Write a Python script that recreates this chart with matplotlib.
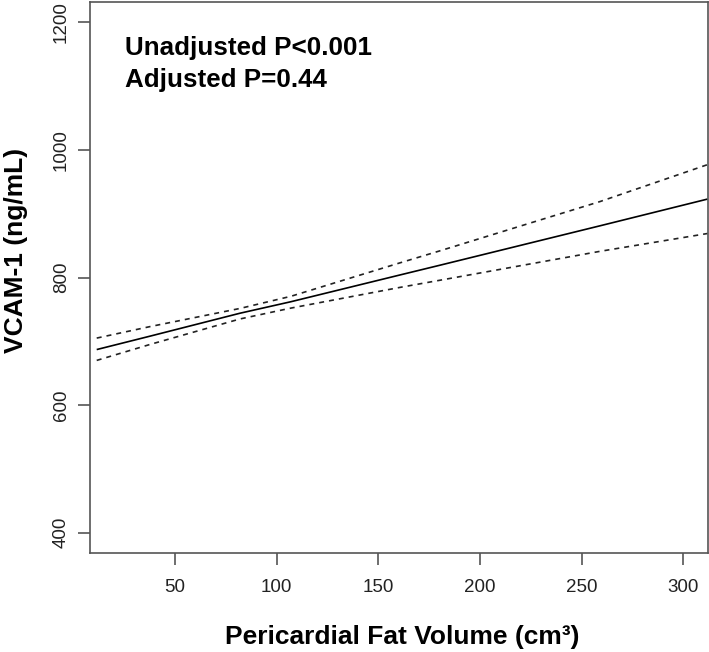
import matplotlib
matplotlib.use("Agg")
import matplotlib.pyplot as plt

# values
fat_volume = [11.5, 37.7, 82, 107, 160.7, 180, 259, 312]
vcam_fit = [687, 708, 744, 762, 804, 819, 881, 923]
vcam_upper = [705, 723, 751.5, 770.5, 823, 841.5, 919, 977]
vcam_lower = [670, 695, 735, 752, 784.5, 795.5, 841, 869]

x_ticks = [50, 100, 150, 200, 250, 300]
y_ticks = [400, 600, 800, 1000, 1200]

plt.rcParams['font.family'] = ['Liberation Sans', 'DejaVu Sans']

fig = plt.figure(figsize=(7.09, 6.52), dpi=100)
ax = fig.add_axes([90/709, 1 - 553/652, 618/709, 551/652])

ax.plot(fat_volume, vcam_fit, color='black', lw=1.2, solid_capstyle='butt')
ax.plot(fat_volume, vcam_upper, color='#222222', lw=1.2, dashes=(3, 3))
ax.plot(fat_volume, vcam_lower, color='#222222', lw=1.2, dashes=(3, 3))

ax.set_xlim(8.2, 312.2)
ax.set_ylim(368, 1232)
ax.set_xticks(x_ticks)
ax.set_yticks(y_ticks)
ax.set_yticklabels([str(v) for v in y_ticks], rotation=90, va='center')

for s in ax.spines.values():
    s.set_color('#555555')
    s.set_linewidth(1.2)
ax.tick_params(axis='both', colors='#555555', labelcolor='#222222',
               length=8.5, width=1.2, labelsize=13.5)
ax.tick_params(axis='x', pad=10)
ax.tick_params(axis='y', pad=6)

ax.set_xlabel('Pericardial Fat Volume (cm³)', fontsize=19, fontweight='bold')
ax.set_ylabel('VCAM-1 (ng/mL)', fontsize=19, fontweight='bold')
ax.xaxis.set_label_coords(0.505, -0.13)
ax.yaxis.set_label_coords(-0.1, 0.55)

ax.text(0.057, 0.904, 'Unadjusted P<0.001', transform=ax.transAxes,
        fontsize=18.7, fontweight='bold', va='baseline')
ax.text(0.057, 0.846, 'Adjusted P=0.44', transform=ax.transAxes,
        fontsize=18.7, fontweight='bold', va='baseline')

plt.savefig('out.png', dpi=100)
